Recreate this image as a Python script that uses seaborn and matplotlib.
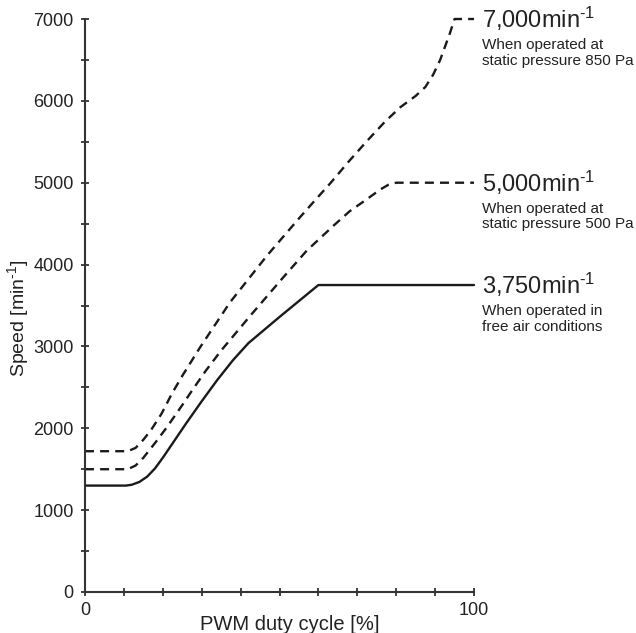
import matplotlib
matplotlib.use("Agg")
import matplotlib.pyplot as plt
from matplotlib.ticker import MultipleLocator, FixedLocator
import seaborn as sns
import pandas as pd

# ---- data ----
duty_free = [0, 10.5, 12, 14, 16, 18, 20, 22, 26, 30, 34, 38, 42, 50, 55, 60, 100]
speed_free = [1300, 1300, 1310, 1345, 1410, 1510, 1640, 1780, 2060, 2330, 2590, 2830, 3040, 3360, 3555, 3750, 3750]

duty_500 = [0, 11, 13, 15, 18, 21, 25, 27.5, 31, 35, 42.4, 51, 57, 64, 68, 72.5, 76, 78, 80, 100]
speed_500 = [1500, 1500, 1545, 1640, 1820, 2010, 2283, 2460, 2700, 2950, 3370, 3846, 4170, 4480, 4650, 4800, 4920, 4975, 5000, 5000]

duty_850 = [0, 11, 13, 15, 17, 19.7, 22.3, 25, 29.6, 37.3, 46.8, 55.3, 59.6, 63, 68, 72.5, 77,
            81, 85, 87.5, 89.5, 91.3, 93.8, 95, 100]
speed_850 = [1720, 1720, 1760, 1860, 1980, 2180, 2420, 2640, 2990, 3540, 4110, 4580, 4810, 4990, 5270,
             5510, 5740, 5920, 6060, 6170, 6320, 6500, 6825, 7000, 7000]

max_labels = [r"7,000min$^{\text{-1}}$", r"5,000min$^{\text{-1}}$", r"3,750min$^{\text{-1}}$"]
max_values = [7000, 5000, 3750]
conditions = ["When operated at\nstatic pressure 850 Pa",
              "When operated at\nstatic pressure 500 Pa",
              "When operated in\nfree air conditions"]

x_ticklabels = ["0", "100"]

sns.set_style("ticks")
plt.rcParams["font.family"] = ["Liberation Sans", "DejaVu Sans"]
plt.rcParams["mathtext.default"] = "regular"
plt.rcParams["mathtext.fontset"] = "custom"
plt.rcParams["mathtext.rm"] = "Liberation Sans"

df_free = pd.DataFrame({"duty": duty_free, "speed": speed_free})
df_500 = pd.DataFrame({"duty": duty_500, "speed": speed_500})
df_850 = pd.DataFrame({"duty": duty_850, "speed": speed_850})

fig = plt.figure(figsize=(6.36, 6.33), dpi=100)
ax = fig.add_axes([85 / 636, 1 - 592 / 633, (474 - 85) / 636, (592 - 19) / 633])

line_color = "#1a1a1a"
text_color = "#222222"
sns.lineplot(data=df_free, x="duty", y="speed", ax=ax, color=line_color, lw=1.7,
             sort=False, estimator=None)
sns.lineplot(data=df_500, x="duty", y="speed", ax=ax, color=line_color, lw=1.7,
             sort=False, estimator=None)
sns.lineplot(data=df_850, x="duty", y="speed", ax=ax, color=line_color, lw=1.7,
             sort=False, estimator=None)
ax.lines[1].set_dashes((3.8, 2.6))
ax.lines[2].set_dashes((3.8, 2.6))
for ln in ax.lines:
    ln.set_clip_on(False)
    ln.set_solid_joinstyle("round")
    ln.set_dash_joinstyle("round")

ax.set_xlim(0, 100)
ax.set_ylim(0, 7000)

ax.xaxis.set_major_locator(FixedLocator([0, 100]))
ax.set_xticklabels(x_ticklabels)
ax.xaxis.set_minor_locator(MultipleLocator(10))
ax.yaxis.set_major_locator(MultipleLocator(1000))
ax.yaxis.set_minor_locator(MultipleLocator(500))

axis_color = "#333333"
for side in ["top", "right"]:
    ax.spines[side].set_visible(False)
for side in ["left", "bottom"]:
    ax.spines[side].set_color(axis_color)
    ax.spines[side].set_linewidth(1.5)

ax.tick_params(axis="both", which="both", direction="inout", length=6.2,
               width=1.3, color=axis_color, labelsize=13, labelcolor=text_color)
ax.tick_params(axis="y", which="both", pad=5)
ax.tick_params(axis="x", which="both", pad=4)

ax.set_xlabel("PWM duty cycle [%]", fontsize=14.5, color=text_color)
ax.set_ylabel(r"Speed [min$^{\text{-1}}$]", fontsize=14, color=text_color)
ax.xaxis.set_label_coords(0.527, -0.041)
ax.yaxis.set_label_coords(-0.139, 0.477)

for lab, val, cond in zip(max_labels, max_values, conditions):
    ax.text(102, val, lab, fontsize=17, va="center", ha="left", color=text_color)
    ax.annotate(cond, xy=(102, val), xycoords="data", xytext=(0, -14),
                textcoords="offset points", fontsize=11, va="top", ha="left",
                linespacing=1.1, color=text_color, annotation_clip=False)

fig.savefig("out.png", dpi=100)
